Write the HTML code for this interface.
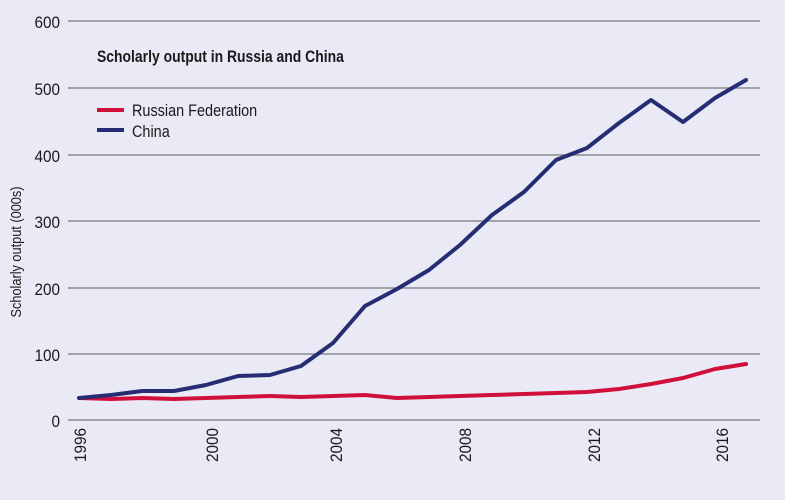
<!DOCTYPE html>
<html><head><style>
body{margin:0;background:#e9eaf5;}
svg{display:block;font-family:"Liberation Sans",sans-serif;}
</style></head><body>
<svg width="785" height="500" viewBox="0 0 785 500">
<rect width="785" height="500" fill="#e9eaf5"/>
<g stroke="#8a8a92" stroke-width="1.5">
<line x1="68" x2="760" y1="21" y2="21"/>
<line x1="68" x2="760" y1="88" y2="88"/>
<line x1="68" x2="760" y1="155" y2="155"/>
<line x1="68" x2="760" y1="221" y2="221"/>
<line x1="68" x2="760" y1="288" y2="288"/>
<line x1="68" x2="760" y1="354" y2="354"/>
<line x1="68" x2="760" y1="420" y2="420"/>
</g>
<g font-size="17" fill="#1a1a1a" text-anchor="end" transform="scale(0.9,1)">
<text x="66.7" y="28">600</text>
<text x="66.7" y="95">500</text>
<text x="66.7" y="162">400</text>
<text x="66.7" y="228">300</text>
<text x="66.7" y="295">200</text>
<text x="66.7" y="361">100</text>
<text x="66.7" y="427">0</text>
</g>
<g font-size="17" fill="#1a1a1a" text-anchor="end">
<text transform="translate(86,428) rotate(-90) scale(0.9,1)">1996</text>
<text transform="translate(218,428) rotate(-90) scale(0.9,1)">2000</text>
<text transform="translate(342,428) rotate(-90) scale(0.9,1)">2004</text>
<text transform="translate(471,428) rotate(-90) scale(0.9,1)">2008</text>
<text transform="translate(600,428) rotate(-90) scale(0.9,1)">2012</text>
<text transform="translate(728,428) rotate(-90) scale(0.9,1)">2016</text>
</g>
<text transform="translate(21,252) rotate(-90) scale(0.85,1)" font-size="15" text-anchor="middle" fill="#1a1a1a">Scholarly output (000s)</text>
<text transform="translate(97,62) scale(0.82,1)" font-size="17" font-weight="bold" fill="#1a1a1a">Scholarly output in Russia and China</text>
<line x1="97" x2="124" y1="110" y2="110" stroke="#d0103a" stroke-width="4"/>
<line x1="97" x2="124" y1="130" y2="130" stroke="#262d73" stroke-width="4"/>
<text transform="translate(132,116) scale(0.85,1)" font-size="17" fill="#1a1a1a">Russian Federation</text>
<text transform="translate(132,137) scale(0.85,1)" font-size="17" fill="#1a1a1a">China</text>
<polyline fill="none" stroke="#d0103a" stroke-width="4" stroke-linejoin="round" stroke-linecap="round"
points="79,398 111,399 142,398 174,399 206,398 238,397 270,396 301,397 333,396 365,395 397,398 429,397 460,396 492,395 524,394 556,393 587,392 619,389 651,384 683,378 715,369 746,364"/>
<polyline fill="none" stroke="#262d73" stroke-width="4" stroke-linejoin="round" stroke-linecap="round"
points="79,398 111,395 142,391 174,391 206,385 238,376 270,375 301,366 333,343 365,306 397,289 429,270 460,245 492,215 524,192 556,160 587,148 619,123 651,100 683,122 715,98 746,80"/>
</svg>
</body></html>
